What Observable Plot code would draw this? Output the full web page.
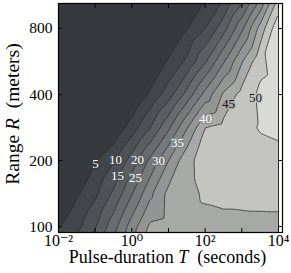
<!DOCTYPE html>
<html><head><meta charset="utf-8">
<script src="https://cdn.jsdelivr.net/npm/d3@7"></script>
<script src="https://cdn.jsdelivr.net/npm/@observablehq/plot@0.6"></script>
<style>body{margin:0;background:#fff}#chart{width:291px;height:273px}</style>
</head><body><div id="chart"></div>
<script>
// Pulse durations (seconds) of the sampled grid columns
const pulseT = [0.01, 0.0316, 0.1, 0.316, 1, 3.16, 10, 31.6, 100, 316, 1000, 3162, 10000];
// Ranges (meters) of the sampled grid rows, top to bottom
const rangeR = [1131, 800, 566, 400, 283, 200, 141, 100, 71];
// Values at each (row, column)
const values = [
  [-25, -22, -19, -16, -13, -9, -4, -1, 4.1, 8.9, 16.7, 28.4, 45],
  [-22, -19, -16, -13, -10, -4, 0, 4.8, 9.9, 18, 28.9, 41.9, 54],
  [-19, -16, -13, -10, -4, 0.5, 5.6, 11, 19.4, 29.4, 39.6, 48.6, 53],
  [-16, -13, -10, -5, -0.2, 5.9, 12.7, 21.8, 31.7, 40.8, 46.8, 51, 52],
  [-13, -10, -5, 0.7, 7.3, 14.9, 24, 34.5, 45, 46.6, 48.4, 50.4, 51],
  [-6, -1, 4.4, 9.4, 17.2, 26.2, 35, 43.5, 47.3, 47.6, 47.8, 48, 48.5],
  [0, 4.3, 8.9, 15.9, 24.7, 33.9, 41.5, 43.3, 45.8, 46.3, 46.5, 46.7, 46.8],
  [4.6, 8.5, 14.5, 23, 32.4, 41, 42, 42.8, 43.2, 43.5, 43.5, 43.5, 43.5],
  [8, 14, 21, 30, 38, 41.5, 42, 42.5, 43, 43, 43, 43, 43]
];
const levels = [5, 10, 15, 20, 25, 30, 35, 40, 45, 50];
const bandFloors = [-40, 5, 10, 15, 20, 25, 30, 35, 40, 45, 50];
const bandColors = ["#363a3e", "#42464a", "#4e5256", "#5b5f62", "#686c6e", "#76797b",
                    "#848788", "#939595", "#a7a9a7", "#c4c5c1", "#d9dad6"];
// Inline contour labels
const labelText = ["5", "10", "15", "20", "25", "30", "35", "40", "45", "50"];
const labelT = [0.102, 0.358, 0.407, 1.43, 1.26, 5.33, 17.6, 102, 433, 2340];
const labelR = [194, 202, 171, 202, 166, 200, 242, 311, 364, 388];
// Axis ticks
const xTicks = [0.01, 0.1, 1, 10, 100, 1000, 10000];
const xTickLabels = [0.01, 1, 100, 10000];
const yTicks = [100, 200, 400, 800];
const yTickLabels = ["100", "200", "400", "800"];
const xLabelParts = ["Pulse-duration ", "T", "\u2002(seconds)"];
const yLabelParts = ["Range ", "R", "\u2002(meters)"];

const grid = rangeR.flatMap((R, i) => pulseT.map((T, j) => ({T, R, v: values[i][j]})));
const labels = labelText.map((t, i) => ({
  t, T: labelT[i], R: labelR[i],
  ink: levels[i] >= 45 ? "#111" : "#fff",
  halo: bandColors[i]
}));
const yLabelData = yTicks.map((R, i) => ({R, t: yTickLabels[i]}));
const supDigits = "⁰¹²³⁴⁵⁶⁷⁸⁹";
const sup = d => "10" + String(Math.round(Math.log10(d))).replace("-", "⁻").replace(/\d/g, c => supDigits[+c]);
const bounds = {x1: 0.01, x2: 10000, y1: 94, y2: 1040};

const chart = Plot.plot({
  width: 291, height: 273,
  marginLeft: 58, marginRight: 9, marginTop: 3, marginBottom: 41,
  style: {fontFamily: "'Liberation Serif', 'DejaVu Serif', serif", background: "white", color: "black"},
  x: {type: "log", domain: [0.01, 12850]},
  y: {type: "log", domain: [94, 1040]},
  color: {type: "ordinal", domain: bandFloors, range: bandColors},
  marks: [
    Plot.contour(grid, {x: "T", y: "R", fill: "v", interpolate: "barycentric", thresholds: bandFloors, ...bounds}),
    Plot.contour(grid, {x: "T", y: "R", value: "v", interpolate: "barycentric", thresholds: levels, ...bounds,
      stroke: "#2a2a2a", strokeWidth: 0.9, strokeOpacity: 0.85, fill: "none"}),
    Plot.text(labels, {x: "T", y: "R", text: "t", fill: "ink", stroke: "halo", strokeWidth: 3, paintOrder: "stroke", fontSize: 13}),
    Plot.frame({stroke: "black", strokeWidth: 1.2}),
    Plot.axisX(xTicks, {anchor: "bottom", tickSize: -4, tickFormat: () => "", label: null}),
    Plot.axisX(xTicks, {anchor: "top", tickSize: -4, tickFormat: () => "", label: null}),
    Plot.axisY(yTicks, {anchor: "left", tickSize: -4, tickFormat: () => "", label: null}),
    Plot.axisY(yTicks, {anchor: "right", tickSize: -4, tickFormat: () => "", label: null}),
    Plot.axisX(xTickLabels, {anchor: "bottom", tickSize: 0, tickPadding: 2, tickFormat: sup, fontSize: 16, label: null}),
    Plot.text(yLabelData, {y: "R", text: "t", frameAnchor: "left", textAnchor: "end", dx: -6, fontSize: 15.5}),
    Plot.text([xLabelParts.join("")], {text: d => d, frameAnchor: "bottom", textAnchor: "middle", lineAnchor: "top", dy: 18, dx: -3, fontSize: 18}),
    Plot.text([yLabelParts.join("")], {text: d => d, frameAnchor: "left", textAnchor: "middle", lineAnchor: "middle", rotate: -90, dx: -46, dy: -4, fontSize: 19.5})
  ]
});
document.getElementById("chart").append(chart);

const ns = "http://www.w3.org/2000/svg";
function italicize(parts) {
  const full = parts.join("");
  chart.querySelectorAll("text").forEach(t => {
    if (t.textContent !== full) return;
    t.textContent = "";
    parts.forEach((p, i) => {
      const s = document.createElementNS(ns, "tspan");
      s.textContent = p;
      if (i === 1) s.setAttribute("font-style", "italic");
      t.appendChild(s);
    });
  });
}
italicize(xLabelParts);
italicize(yLabelParts);
</script>
</body></html>
